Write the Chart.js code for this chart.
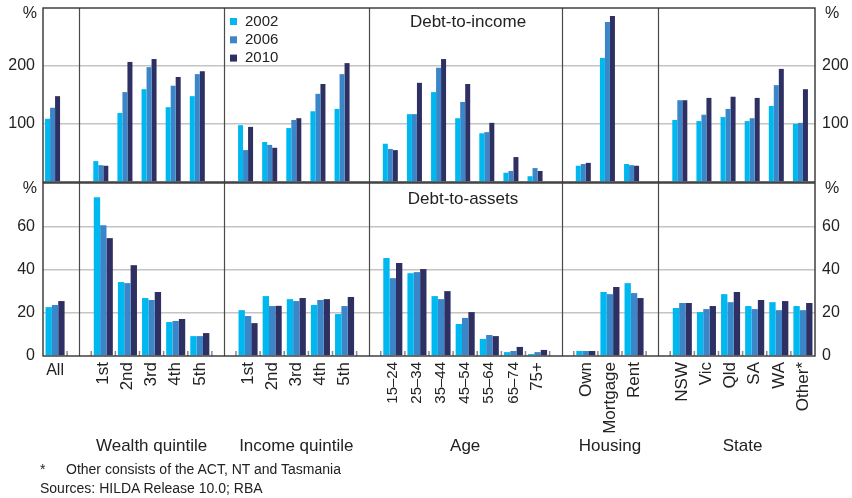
<!DOCTYPE html>
<html><head><meta charset="utf-8">
<script src="https://cdn.jsdelivr.net/npm/chart.js@4.4.1/dist/chart.umd.min.js"></script>
<style>
html,body{margin:0;padding:0;background:#fff;}
body{width:852px;height:498px;position:relative;overflow:hidden;font-family:"Liberation Sans",Arial,sans-serif;color:#222;}
#top{position:absolute;left:0;top:0;width:852px;height:186px;}
#bot{position:absolute;left:0;top:176px;width:852px;height:322px;}
.note{position:absolute;font-size:14px;line-height:16px;white-space:nowrap;color:#222;}
</style></head><body>
<div id="top"><canvas id="c1"></canvas></div>
<div id="bot"><canvas id="c2"></canvas></div>
<div class="note" style="left:40px;top:461px">*</div>
<div class="note" style="left:66px;top:461px">Other consists of the ACT, NT and Tasmania</div>
<div class="note" style="left:40px;top:480px">Sources: HILDA Release 10.0; RBA</div>
<script>
// ---- data ----
const categories = ['All','', '1st','2nd','3rd','4th','5th','', '1st','2nd','3rd','4th','5th','',
  '15–24','25–34','35–44','45–54','55–64','65–74','75+','', 'Own','Mortgage','Rent','',
  'NSW','Vic','Qld','SA','WA','Other*'];
const groupNames = ['Wealth quintile','Income quintile','Age','Housing','State'];
const groupFirst = [2, 8, 14, 22, 26];
const groupLast  = [6, 12, 20, 24, 31];
const seriesNames = ['2002','2006','2010'];
const seriesColors = ['#00B8F0','#3A86C8','#2E3063'];

const dti2002 = [109,null, 36,119,160,129,148,null, 98,69,93,122,126,null, 66,117,155,110,84,16,10,null, 28,214,31,null, 107,105,112,105,131,100];
const dti2006 = [128,null, 29,155,198,166,186,null, 55,64,107,152,186,null, 57,117,197,138,86,19,24,null, 31,276,29,null, 141,116,126,110,167,102];
const dti2010 = [148,null, 28,207,212,181,191,null, 95,59,110,169,205,null, 55,171,212,169,102,43,19,null, 33,286,28,null, 141,145,147,145,195,160];
const dtiSpacer = categories.map(() => null);

const dta2002 = [22.6,null, 73.4,34.2,26.8,15.7,9.2,null, 21.2,27.7,26.3,23.6,19.4,null, 45.3,38.3,27.7,14.8,7.9,1.8,0.9,null, 2.3,29.6,33.7,null, 22.2,20.3,28.6,23.1,24.9,23.1];
const dta2006 = [23.6,null, 60.5,33.7,25.9,16.2,9.2,null, 18.5,23.1,25.4,25.9,23.1,null, 36.0,38.8,26.3,17.6,9.7,2.3,1.8,null, 2.3,28.6,29.1,null, 24.5,21.7,24.9,21.7,21.2,21.2];
const dta2010 = [25.4,null, 54.5,42.0,29.6,17.1,10.6,null, 15.2,23.2,26.8,26.3,27.3,null, 43.0,40.2,30.0,20.3,9.2,4.2,2.8,null, 2.3,31.9,26.8,null, 24.5,23.1,29.6,25.9,25.4,24.5];

const dtiTicks = [100, 200];
const dtaTicks = [0, 20, 40, 60];

// ---- styling ----
const FONT = "'Liberation Sans', Arial, sans-serif";
Chart.defaults.font.family = FONT;
Chart.defaults.font.size = 16;
Chart.defaults.color = '#222';
Chart.defaults.animation = false;

const gapIdx = categories.map((c,i) => c === '' ? i : -1).filter(i => i >= 0);

function framePlugin(opts) {
  return {
    id: 'frame' + opts.name,
    afterDatasetsDraw(chart) {
      const {ctx, chartArea: a, scales} = chart;
      const x = scales.x;
      ctx.save();
      if (opts.innerTicks) {
        ctx.strokeStyle = '#8a8a8a';
        ctx.lineWidth = 1.5;
        for (let i = 0; i < categories.length - 1; i++) {
          const px = (x.getPixelForValue(i) + x.getPixelForValue(i + 1)) / 2;
          ctx.beginPath(); ctx.moveTo(px, a.bottom); ctx.lineTo(px, a.bottom - 5); ctx.stroke();
        }
      }
      ctx.strokeStyle = '#4a4a4a';
      ctx.lineWidth = 1.2;
      gapIdx.forEach(i => {
        const px = Math.round(x.getPixelForValue(i)) + 0.5;
        ctx.beginPath(); ctx.moveTo(px, a.top); ctx.lineTo(px, a.bottom); ctx.stroke();
      });
      ctx.strokeStyle = '#333';
      ctx.lineWidth = 1.4;
      ctx.strokeRect(a.left, a.top, a.right - a.left, a.bottom - a.top);
      ctx.fillStyle = '#222';
      ctx.font = '16px ' + FONT;
      ctx.textBaseline = 'middle';
      ctx.textAlign = 'right';
      ctx.fillText('%', a.left - 6, a.top + 6);
      ctx.textAlign = 'left';
      ctx.fillText('%', a.right + 10, a.top + 6);
      ctx.font = '17px ' + FONT;
      ctx.textAlign = 'center';
      ctx.fillText(opts.title, opts.titleX, a.top + opts.titleDy);
      ctx.restore();
    }
  };
}

const legendPlugin = {
  id: 'legendTop',
  afterDraw(chart) {
    const ctx = chart.ctx;
    ctx.save();
    ctx.font = '15px ' + FONT;
    ctx.textBaseline = 'middle';
    ctx.textAlign = 'left';
    seriesNames.forEach((n, i) => {
      const cy = 21.5 + i * 18.3;
      ctx.fillStyle = seriesColors[i];
      ctx.fillRect(230, cy - 3.5, 7, 7);
      ctx.fillStyle = '#222';
      ctx.fillText(n, 245, cy);
    });
    ctx.restore();
  }
};

const bottomLabelsPlugin = {
  id: 'bottomLabels',
  afterDraw(chart) {
    const {ctx, chartArea: a, scales} = chart;
    const x = scales.x;
    ctx.save();
    ctx.fillStyle = '#222';
    ctx.font = '16px ' + FONT;
    ctx.textAlign = 'center';
    ctx.textBaseline = 'top';
    ctx.fillText(categories[0], x.getPixelForValue(0), a.bottom + 7);
    ctx.font = '17px ' + FONT;
    ctx.textBaseline = 'middle';
    groupNames.forEach((g, k) => {
      const cx = (x.getPixelForValue(groupFirst[k]) + x.getPixelForValue(groupLast[k])) / 2;
      ctx.fillText(g, cx, a.bottom + 90);
    });
    ctx.restore();
  }
};

function yAxes(max, step, shown) {
  const cb = v => shown.includes(v) ? v : '';
  const fitL = s => { s.width = 43; s.paddingTop = 0; s.paddingBottom = 0; };
  const fitR = s => { s.width = 37; s.paddingTop = 0; s.paddingBottom = 0; };
  return {
    y: {
      position: 'left', min: 0, max: max,
      ticks: { stepSize: step, callback: cb, padding: 8 },
      grid: { drawTicks: false, color: c => (c.tick.value === 0 || c.tick.value === max) ? 'rgba(0,0,0,0)' : '#c4c4c4', lineWidth: 1.5 },
      border: { display: false },
      afterFit: fitL
    },
    y2: {
      position: 'right', min: 0, max: max,
      ticks: { stepSize: step, callback: cb, padding: 7 },
      grid: { display: false, drawTicks: false },
      border: { display: false },
      afterFit: fitR
    }
  };
}

new Chart(document.getElementById('c1'), {
  type: 'bar',
  data: {
    labels: categories,
    datasets: [
      { label: seriesNames[0], data: dti2002, backgroundColor: seriesColors[0] },
      { label: seriesNames[1], data: dti2006, backgroundColor: seriesColors[1] },
      { label: seriesNames[2], data: dti2010, backgroundColor: seriesColors[2] },
      { label: '', data: dtiSpacer, backgroundColor: 'rgba(0,0,0,0)' }
    ]
  },
  options: {
    responsive: true, maintainAspectRatio: false,
    layout: { padding: { top: 8, bottom: 4, left: 0, right: 0 } },
    datasets: { bar: { categoryPercentage: 0.83, barPercentage: 1 } },
    plugins: { legend: { display: false }, tooltip: { enabled: false } },
    scales: Object.assign({
      x: { display: false, grid: { display: false } }
    }, yAxes(300, 100, dtiTicks))
  },
  plugins: [framePlugin({ name: 'top', innerTicks: false, title: 'Debt-to-income', titleX: 468, titleDy: 14 }), legendPlugin]
});

new Chart(document.getElementById('c2'), {
  type: 'bar',
  data: {
    labels: categories,
    datasets: [
      { label: seriesNames[0], data: dta2002, backgroundColor: seriesColors[0] },
      { label: seriesNames[1], data: dta2006, backgroundColor: seriesColors[1] },
      { label: seriesNames[2], data: dta2010, backgroundColor: seriesColors[2] }
    ]
  },
  options: {
    responsive: true, maintainAspectRatio: false,
    layout: { padding: { top: 7, bottom: 0, left: 0, right: 0 } },
    datasets: { bar: { categoryPercentage: 0.79, barPercentage: 1 } },
    plugins: { legend: { display: false }, tooltip: { enabled: false } },
    scales: Object.assign({
      x: {
        grid: { display: false, drawTicks: false },
        border: { display: false },
        ticks: {
          autoSkip: false, minRotation: 90, maxRotation: 90, padding: 6,
          font: c => ({ size: (categories[c.index] || '').includes('–') ? 15 : 17 }),
          callback: (v, i) => i === 0 ? '' : categories[i]
        },
        afterFit: s => { s.height = 322 - 7 - 173; s.paddingLeft = 0; s.paddingRight = 0; }
      }
    }, yAxes(80, 20, dtaTicks))
  },
  plugins: [framePlugin({ name: 'bot', innerTicks: true, title: 'Debt-to-assets', titleX: 463, titleDy: 16 }), bottomLabelsPlugin]
});
</script>
</body></html>
